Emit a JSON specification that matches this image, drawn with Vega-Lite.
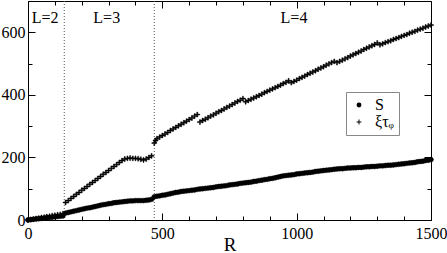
{
  "$schema": "https://vega.github.io/schema/vega-lite/v6.json",
  "width": 403,
  "height": 219,
  "autosize": {"type": "none"},
  "padding": {"left": 28, "top": 1, "right": 16, "bottom": 33},
  "background": "white",
  "config": {
    "view": {"stroke": "black", "strokeWidth": 1},
    "font": "Liberation Serif, Times New Roman, serif",
    "axis": {
      "domainColor": "black",
      "tickColor": "black",
      "labelColor": "black",
      "labelFont": "Liberation Serif, Times New Roman, serif",
      "labelFontSize": 16,
      "titleFont": "Liberation Serif, Times New Roman, serif",
      "titleFontSize": 19,
      "titleFontWeight": "normal",
      "titleColor": "black",
      "grid": false
    },
    "legend": {"labelFont": "Liberation Serif, Times New Roman, serif"}
  },
  "datasets": {
    "pts": [
      {"R":0,"v":0,"s":"S"},{"R":10,"v":1,"s":"S"},{"R":20,"v":2,"s":"S"},{"R":30,"v":3,"s":"S"},{"R":40,"v":4,"s":"S"},{"R":50,"v":5,"s":"S"},{"R":60,"v":6,"s":"S"},{"R":70,"v":7,"s":"S"},{"R":80,"v":8,"s":"S"},{"R":90,"v":9,"s":"S"},{"R":100,"v":10,"s":"S"},{"R":110,"v":11,"s":"S"},{"R":120,"v":12,"s":"S"},{"R":130,"v":13,"s":"S"},
      {"R":140,"v":22,"s":"S"},{"R":150,"v":24,"s":"S"},{"R":160,"v":26,"s":"S"},{"R":170,"v":28,"s":"S"},{"R":180,"v":30,"s":"S"},{"R":190,"v":32,"s":"S"},{"R":200,"v":34,"s":"S"},{"R":210,"v":36,"s":"S"},{"R":220,"v":38,"s":"S"},{"R":230,"v":39,"s":"S"},{"R":240,"v":41,"s":"S"},{"R":250,"v":43,"s":"S"},{"R":260,"v":45,"s":"S"},{"R":270,"v":47,"s":"S"},{"R":280,"v":49,"s":"S"},{"R":290,"v":50,"s":"S"},{"R":300,"v":52,"s":"S"},{"R":310,"v":53,"s":"S"},{"R":320,"v":55,"s":"S"},{"R":330,"v":56,"s":"S"},{"R":340,"v":57,"s":"S"},{"R":350,"v":58,"s":"S"},{"R":360,"v":59,"s":"S"},{"R":370,"v":60,"s":"S"},{"R":380,"v":61,"s":"S"},{"R":390,"v":61,"s":"S"},{"R":400,"v":62,"s":"S"},{"R":410,"v":62,"s":"S"},{"R":420,"v":62,"s":"S"},{"R":430,"v":62,"s":"S"},{"R":440,"v":63,"s":"S"},{"R":450,"v":64,"s":"S"},{"R":460,"v":66,"s":"S"},
      {"R":470,"v":74,"s":"S"},{"R":480,"v":76,"s":"S"},{"R":490,"v":77,"s":"S"},{"R":500,"v":79,"s":"S"},{"R":510,"v":80,"s":"S"},{"R":520,"v":82,"s":"S"},{"R":530,"v":84,"s":"S"},{"R":540,"v":86,"s":"S"},{"R":550,"v":88,"s":"S"},{"R":560,"v":89,"s":"S"},{"R":570,"v":91,"s":"S"},{"R":580,"v":92,"s":"S"},{"R":590,"v":93,"s":"S"},{"R":600,"v":94,"s":"S"},{"R":610,"v":95,"s":"S"},{"R":620,"v":96,"s":"S"},{"R":630,"v":98,"s":"S"},{"R":640,"v":99,"s":"S"},{"R":650,"v":100,"s":"S"},{"R":660,"v":101,"s":"S"},{"R":670,"v":102,"s":"S"},{"R":680,"v":103,"s":"S"},{"R":690,"v":104,"s":"S"},{"R":700,"v":106,"s":"S"},{"R":710,"v":107,"s":"S"},{"R":720,"v":108,"s":"S"},{"R":730,"v":109,"s":"S"},{"R":740,"v":110,"s":"S"},{"R":750,"v":112,"s":"S"},{"R":760,"v":113,"s":"S"},{"R":770,"v":114,"s":"S"},{"R":780,"v":115,"s":"S"},{"R":790,"v":117,"s":"S"},{"R":800,"v":118,"s":"S"},{"R":810,"v":119,"s":"S"},{"R":820,"v":120,"s":"S"},{"R":830,"v":121,"s":"S"},{"R":840,"v":123,"s":"S"},{"R":850,"v":124,"s":"S"},{"R":860,"v":126,"s":"S"},{"R":870,"v":127,"s":"S"},{"R":880,"v":129,"s":"S"},{"R":890,"v":130,"s":"S"},{"R":900,"v":132,"s":"S"},{"R":910,"v":133,"s":"S"},{"R":920,"v":135,"s":"S"},{"R":930,"v":137,"s":"S"},{"R":940,"v":139,"s":"S"},{"R":950,"v":141,"s":"S"},{"R":960,"v":142,"s":"S"},{"R":970,"v":143,"s":"S"},{"R":980,"v":144,"s":"S"},{"R":990,"v":145,"s":"S"},{"R":1000,"v":147,"s":"S"},{"R":1010,"v":148,"s":"S"},{"R":1020,"v":149,"s":"S"},{"R":1030,"v":150,"s":"S"},{"R":1040,"v":151,"s":"S"},{"R":1050,"v":152,"s":"S"},{"R":1060,"v":153,"s":"S"},{"R":1070,"v":155,"s":"S"},{"R":1080,"v":156,"s":"S"},{"R":1090,"v":157,"s":"S"},{"R":1100,"v":158,"s":"S"},{"R":1110,"v":159,"s":"S"},{"R":1120,"v":160,"s":"S"},{"R":1130,"v":161,"s":"S"},{"R":1140,"v":162,"s":"S"},{"R":1150,"v":163,"s":"S"},{"R":1160,"v":164,"s":"S"},{"R":1170,"v":164,"s":"S"},{"R":1180,"v":165,"s":"S"},{"R":1190,"v":166,"s":"S"},{"R":1200,"v":166,"s":"S"},{"R":1210,"v":167,"s":"S"},{"R":1220,"v":167,"s":"S"},{"R":1230,"v":168,"s":"S"},{"R":1240,"v":168,"s":"S"},{"R":1250,"v":169,"s":"S"},{"R":1260,"v":170,"s":"S"},{"R":1270,"v":170,"s":"S"},{"R":1280,"v":171,"s":"S"},{"R":1290,"v":171,"s":"S"},{"R":1300,"v":172,"s":"S"},{"R":1310,"v":173,"s":"S"},{"R":1320,"v":173,"s":"S"},{"R":1330,"v":174,"s":"S"},{"R":1340,"v":175,"s":"S"},{"R":1350,"v":175,"s":"S"},{"R":1360,"v":176,"s":"S"},{"R":1370,"v":177,"s":"S"},{"R":1380,"v":178,"s":"S"},{"R":1390,"v":179,"s":"S"},{"R":1400,"v":180,"s":"S"},{"R":1410,"v":181,"s":"S"},{"R":1420,"v":182,"s":"S"},{"R":1430,"v":183,"s":"S"},{"R":1440,"v":184,"s":"S"},{"R":1450,"v":186,"s":"S"},{"R":1460,"v":187,"s":"S"},{"R":1470,"v":188,"s":"S"},{"R":1480,"v":190,"s":"S"},{"R":1490,"v":191,"s":"S"},{"R":1500,"v":193,"s":"S"},
      {"R":0,"v":0,"s":"ξτᵩ"},{"R":10,"v":2,"s":"ξτᵩ"},{"R":20,"v":3,"s":"ξτᵩ"},{"R":30,"v":5,"s":"ξτᵩ"},{"R":40,"v":6,"s":"ξτᵩ"},{"R":50,"v":8,"s":"ξτᵩ"},{"R":60,"v":9,"s":"ξτᵩ"},{"R":70,"v":11,"s":"ξτᵩ"},{"R":80,"v":12,"s":"ξτᵩ"},{"R":90,"v":14,"s":"ξτᵩ"},{"R":100,"v":15,"s":"ξτᵩ"},{"R":110,"v":17,"s":"ξτᵩ"},{"R":120,"v":18,"s":"ξτᵩ"},{"R":130,"v":20,"s":"ξτᵩ"},
      {"R":140,"v":56,"s":"ξτᵩ"},{"R":150,"v":62,"s":"ξτᵩ"},{"R":160,"v":69,"s":"ξτᵩ"},{"R":170,"v":75,"s":"ξτᵩ"},{"R":180,"v":82,"s":"ξτᵩ"},{"R":190,"v":88,"s":"ξτᵩ"},{"R":200,"v":95,"s":"ξτᵩ"},{"R":210,"v":101,"s":"ξτᵩ"},{"R":220,"v":107,"s":"ξτᵩ"},{"R":230,"v":114,"s":"ξτᵩ"},{"R":240,"v":120,"s":"ξτᵩ"},{"R":250,"v":126,"s":"ξτᵩ"},{"R":260,"v":133,"s":"ξτᵩ"},{"R":270,"v":139,"s":"ξτᵩ"},{"R":280,"v":146,"s":"ξτᵩ"},{"R":290,"v":152,"s":"ξτᵩ"},{"R":300,"v":158,"s":"ξτᵩ"},{"R":310,"v":165,"s":"ξτᵩ"},{"R":320,"v":171,"s":"ξτᵩ"},{"R":330,"v":177,"s":"ξτᵩ"},{"R":340,"v":184,"s":"ξτᵩ"},{"R":350,"v":190,"s":"ξτᵩ"},{"R":360,"v":195,"s":"ξτᵩ"},{"R":370,"v":197,"s":"ξτᵩ"},{"R":380,"v":198,"s":"ξτᵩ"},{"R":390,"v":197,"s":"ξτᵩ"},{"R":400,"v":197,"s":"ξτᵩ"},{"R":410,"v":196,"s":"ξτᵩ"},{"R":420,"v":194,"s":"ξτᵩ"},{"R":430,"v":192,"s":"ξτᵩ"},{"R":440,"v":195,"s":"ξτᵩ"},{"R":450,"v":200,"s":"ξτᵩ"},{"R":460,"v":205,"s":"ξτᵩ"},
      {"R":470,"v":246,"s":"ξτᵩ"},{"R":475,"v":254,"s":"ξτᵩ"},{"R":480,"v":260,"s":"ξτᵩ"},{"R":490,"v":265,"s":"ξτᵩ"},{"R":500,"v":270,"s":"ξτᵩ"},{"R":510,"v":275,"s":"ξτᵩ"},{"R":520,"v":280,"s":"ξτᵩ"},{"R":530,"v":286,"s":"ξτᵩ"},{"R":540,"v":291,"s":"ξτᵩ"},{"R":550,"v":296,"s":"ξτᵩ"},{"R":560,"v":301,"s":"ξτᵩ"},{"R":570,"v":306,"s":"ξτᵩ"},{"R":580,"v":311,"s":"ξτᵩ"},{"R":590,"v":316,"s":"ξτᵩ"},{"R":600,"v":321,"s":"ξτᵩ"},{"R":610,"v":326,"s":"ξτᵩ"},{"R":620,"v":332,"s":"ξτᵩ"},{"R":630,"v":337,"s":"ξτᵩ"},
      {"R":640,"v":313,"s":"ξτᵩ"},{"R":650,"v":318,"s":"ξτᵩ"},{"R":660,"v":322,"s":"ξτᵩ"},{"R":670,"v":327,"s":"ξτᵩ"},{"R":680,"v":332,"s":"ξτᵩ"},{"R":690,"v":336,"s":"ξτᵩ"},{"R":700,"v":341,"s":"ξτᵩ"},{"R":710,"v":346,"s":"ξτᵩ"},{"R":720,"v":350,"s":"ξτᵩ"},{"R":730,"v":355,"s":"ξτᵩ"},{"R":740,"v":360,"s":"ξτᵩ"},{"R":750,"v":364,"s":"ξτᵩ"},{"R":760,"v":369,"s":"ξτᵩ"},{"R":770,"v":374,"s":"ξτᵩ"},{"R":780,"v":379,"s":"ξτᵩ"},{"R":790,"v":383,"s":"ξτᵩ"},{"R":800,"v":388,"s":"ξτᵩ"},
      {"R":810,"v":378,"s":"ξτᵩ"},{"R":820,"v":382,"s":"ξτᵩ"},{"R":830,"v":386,"s":"ξτᵩ"},{"R":840,"v":390,"s":"ξτᵩ"},{"R":850,"v":394,"s":"ξτᵩ"},{"R":860,"v":398,"s":"ξτᵩ"},{"R":870,"v":402,"s":"ξτᵩ"},{"R":880,"v":407,"s":"ξτᵩ"},{"R":890,"v":411,"s":"ξτᵩ"},{"R":900,"v":415,"s":"ξτᵩ"},{"R":910,"v":419,"s":"ξτᵩ"},{"R":920,"v":423,"s":"ξτᵩ"},{"R":930,"v":427,"s":"ξτᵩ"},{"R":940,"v":431,"s":"ξτᵩ"},{"R":950,"v":436,"s":"ξτᵩ"},{"R":960,"v":440,"s":"ξτᵩ"},{"R":970,"v":445,"s":"ξτᵩ"},
      {"R":980,"v":439,"s":"ξτᵩ"},{"R":990,"v":443,"s":"ξτᵩ"},{"R":1000,"v":447,"s":"ξτᵩ"},{"R":1010,"v":452,"s":"ξτᵩ"},{"R":1020,"v":456,"s":"ξτᵩ"},{"R":1030,"v":460,"s":"ξτᵩ"},{"R":1040,"v":465,"s":"ξτᵩ"},{"R":1050,"v":469,"s":"ξτᵩ"},{"R":1060,"v":473,"s":"ξτᵩ"},{"R":1070,"v":477,"s":"ξτᵩ"},{"R":1080,"v":482,"s":"ξτᵩ"},{"R":1090,"v":486,"s":"ξτᵩ"},{"R":1100,"v":490,"s":"ξτᵩ"},{"R":1110,"v":495,"s":"ξτᵩ"},{"R":1120,"v":499,"s":"ξτᵩ"},{"R":1130,"v":503,"s":"ξτᵩ"},{"R":1140,"v":507,"s":"ξτᵩ"},
      {"R":1150,"v":503,"s":"ξτᵩ"},{"R":1160,"v":507,"s":"ξτᵩ"},{"R":1170,"v":511,"s":"ξτᵩ"},{"R":1180,"v":515,"s":"ξτᵩ"},{"R":1190,"v":519,"s":"ξτᵩ"},{"R":1200,"v":524,"s":"ξτᵩ"},{"R":1210,"v":528,"s":"ξτᵩ"},{"R":1220,"v":532,"s":"ξτᵩ"},{"R":1230,"v":536,"s":"ξτᵩ"},{"R":1240,"v":540,"s":"ξτᵩ"},{"R":1250,"v":545,"s":"ξτᵩ"},{"R":1260,"v":549,"s":"ξτᵩ"},{"R":1270,"v":553,"s":"ξτᵩ"},{"R":1280,"v":557,"s":"ξτᵩ"},{"R":1290,"v":561,"s":"ξτᵩ"},{"R":1300,"v":566,"s":"ξτᵩ"},
      {"R":1310,"v":560,"s":"ξτᵩ"},{"R":1320,"v":563,"s":"ξτᵩ"},{"R":1330,"v":567,"s":"ξτᵩ"},{"R":1340,"v":570,"s":"ξτᵩ"},{"R":1350,"v":573,"s":"ξτᵩ"},{"R":1360,"v":577,"s":"ξτᵩ"},{"R":1370,"v":580,"s":"ξτᵩ"},{"R":1380,"v":583,"s":"ξτᵩ"},{"R":1390,"v":587,"s":"ξτᵩ"},{"R":1400,"v":590,"s":"ξτᵩ"},{"R":1410,"v":593,"s":"ξτᵩ"},{"R":1420,"v":597,"s":"ξτᵩ"},{"R":1430,"v":600,"s":"ξτᵩ"},{"R":1440,"v":603,"s":"ξτᵩ"},{"R":1450,"v":607,"s":"ξτᵩ"},{"R":1460,"v":610,"s":"ξτᵩ"},{"R":1470,"v":613,"s":"ξτᵩ"},{"R":1480,"v":617,"s":"ξτᵩ"},{"R":1490,"v":620,"s":"ξτᵩ"},{"R":1500,"v":623,"s":"ξτᵩ"}
    ],
    "bounds": [{"R": 135}, {"R": 470}],
    "labels": [
      {"t": "L=2", "R": 64, "v": 646},
      {"t": "L=3", "R": 293, "v": 646},
      {"t": "L=4", "R": 990, "v": 646}
    ]
  },
  "resolve": {"axis": {"x": "independent", "y": "independent"}},
  "layer": [
    {
      "data": {"name": "bounds"},
      "mark": {"type": "rule", "color": "#555555", "strokeWidth": 1, "strokeDash": [1, 2]},
      "encoding": {
        "x": {"field": "R", "type": "quantitative", "scale": {"domain": [0, 1500], "nice": false}, "axis": null}
      }
    },
    {
      "data": {"name": "pts"},
      "mark": {"type": "point", "filled": true, "color": "black", "stroke": "black", "strokeWidth": 0.5, "opacity": 1, "size": 24},
      "encoding": {
        "x": {
          "field": "R", "type": "quantitative",
          "scale": {"domain": [0, 1500], "nice": false},
          "axis": {
            "orient": "bottom", "title": "R", "titlePadding": -6,
            "values": [0,100,200,300,400,500,600,700,800,900,1000,1100,1200,1300,1400,1500],
            "labelExpr": "datum.value % 500 === 0 ? format(datum.value, 'd') : ''",
            "tickSize": {"condition": {"test": "datum.value % 500 === 0", "value": -7}, "value": -4},
            "labelPadding": 12, "labelFlush": false
          }
        },
        "y": {
          "field": "v", "type": "quantitative",
          "scale": {"domain": [0, 700], "nice": false},
          "axis": {
            "orient": "left", "title": null,
            "values": [0,100,200,300,400,500,600],
            "labelExpr": "datum.value % 200 === 0 ? format(datum.value, 'd') : ''",
            "tickSize": {"condition": {"test": "datum.value % 200 === 0", "value": -7}, "value": -4},
            "labelPadding": 10
          }
        },
        "shape": {
          "field": "s", "type": "nominal",
          "scale": {"domain": ["S", "ξτᵩ"], "range": ["circle", "M-1,-0.2H-0.2V-1H0.2V-0.2H1V0.2H0.2V1H-0.2V0.2H-1Z"]},
          "legend": {
            "title": null, "orient": "none", "legendX": 318, "legendY": 91,
            "fillColor": "white", "strokeColor": "#888888", "padding": 5,
            "labelFont": "Liberation Serif, Times New Roman, serif", "labelFontSize": 16, "labelColor": "black",
            "rowPadding": 1, "labelOffset": 8, "symbolSize": 24,
            "symbolFillColor": "black", "symbolStrokeColor": "black", "symbolStrokeWidth": 0.5
          }
        }
      }
    },
    {
      "data": {"name": "labels"},
      "mark": {"type": "text", "font": "Liberation Serif, Times New Roman, serif", "fontSize": 16, "color": "black"},
      "encoding": {
        "text": {"field": "t"},
        "x": {
          "field": "R", "type": "quantitative",
          "scale": {"domain": [0, 1500], "nice": false},
          "axis": {
            "orient": "top", "title": null, "labels": false, "domain": false,
            "values": [0,100,200,300,400,500,600,700,800,900,1000,1100,1200,1300,1400,1500],
            "tickSize": {"condition": {"test": "datum.value % 500 === 0", "value": -7}, "value": -4}
          }
        },
        "y": {
          "field": "v", "type": "quantitative",
          "scale": {"domain": [0, 700], "nice": false},
          "axis": {
            "orient": "right", "title": null, "labels": false, "domain": false,
            "values": [0,100,200,300,400,500,600],
            "tickSize": {"condition": {"test": "datum.value % 200 === 0", "value": -7}, "value": -4}
          }
        }
      }
    }
  ]
}
